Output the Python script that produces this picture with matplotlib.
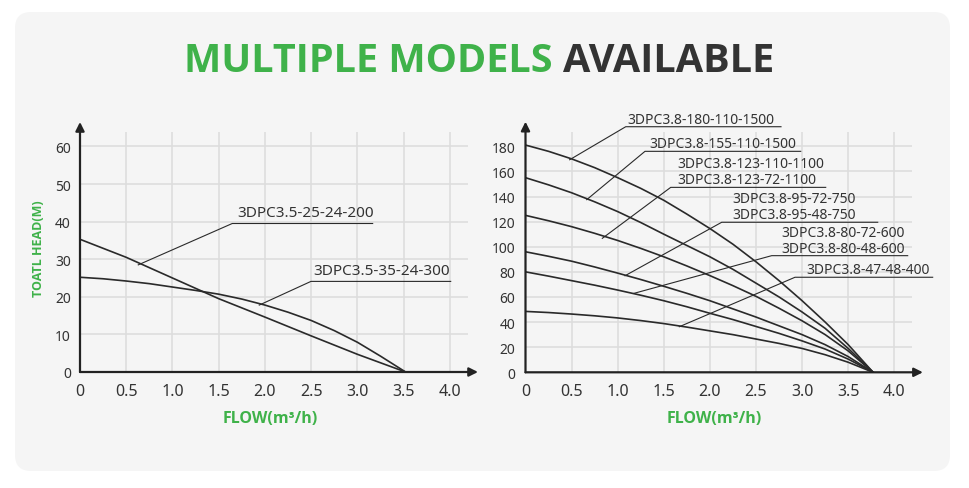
import matplotlib
matplotlib.use("Agg")
import matplotlib.pyplot as plt
from matplotlib.patches import FancyBboxPatch

plt.rcParams['font.family'] = ['Noto Sans', 'DejaVu Sans']
BOLD_FONT = ['Open Sans', 'DejaVu Sans']

GREEN = '#3fb24a'
DARK = '#333333'
GRID = '#dcdcdc'
PANEL = '#f5f5f5'

# ---- left chart data ----
left_xticks = [0, 0.5, 1.0, 1.5, 2.0, 2.5, 3.0, 3.5, 4.0]
left_xlabels = ['0', '0.5', '1.0', '1.5', '2.0', '2.5', '3.0', '3.5', '4.0']
left_yticks = [0, 10, 20, 30, 40, 50, 60]

flow_200 = [0, 0.5, 1.0, 1.5, 2.0, 2.5, 3.0, 3.52]
head_200 = [35.3, 30.5, 25.0, 19.5, 14.6, 9.6, 4.7, 0]
flow_300 = [0, 0.25, 0.5, 0.75, 1.0, 1.25, 1.5, 1.75, 2.0, 2.25, 2.5, 2.75,
            3.0, 3.25, 3.52]
head_300 = [25.2, 24.8, 24.2, 23.5, 22.6, 21.7, 20.7, 19.4, 17.8, 15.9, 13.7,
            11.0, 7.9, 4.2, 0]

left_labels = ['3DPC3.5-25-24-200', '3DPC3.5-35-24-300']
left_lead_x0 = [0.63, 1.938]
left_lead_y0 = [28.5, 17.8]
left_lead_x1 = [1.646, 2.497]
left_lead_y1 = [39.5, 24.1]
left_lead_x2 = [3.164, 4.008]
left_text_x = [1.705, 2.522]

# ---- right chart data ----
right_xticks = left_xticks
right_xlabels = left_xlabels
right_yticks = [0, 20, 40, 60, 80, 100, 120, 140, 160, 180]

right_flow = [0, 0.25, 0.5, 0.75, 1.0, 1.25, 1.5, 1.75, 2.0, 2.25, 2.5, 2.75,
              3.0, 3.25, 3.5, 3.77]
head_180 = [181, 176, 170, 163, 155, 146.5, 137, 126, 114.5, 102, 88, 73,
            57, 40, 22, 0]
head_155 = [155, 149.3, 143, 135.8, 128, 119.3, 110, 101, 92, 82, 71, 60,
            48, 35, 19, 0]
head_123 = [125, 120.7, 116, 110.7, 105, 98.7, 92, 84.7, 77, 69, 60.5, 51,
            41, 30, 17, 0]
head_95 = [96, 92.4, 88.5, 83.9, 79, 73.9, 68.5, 62.9, 57, 50.5, 44, 37,
           30, 22, 12.5, 0]
head_80 = [80, 76.6, 73, 69.4, 65.5, 61.4, 57, 52.2, 47, 42, 36.5, 31,
           25, 18.5, 10.5, 0]
head_47 = [48.5, 47.6, 46.4, 45.0, 43.3, 41.2, 38.8, 36.0, 33, 30, 26.5, 23,
           19, 14, 8, 0]
right_heads = [head_180, head_155, head_123, head_95, head_80, head_47]

right_labels = [
    ['3DPC3.8-180-110-1500'],
    ['3DPC3.8-155-110-1500'],
    ['3DPC3.8-123-72-1100', '3DPC3.8-123-110-1100'],
    ['3DPC3.8-95-48-750', '3DPC3.8-95-72-750'],
    ['3DPC3.8-80-48-600', '3DPC3.8-80-72-600'],
    ['3DPC3.8-47-48-400'],
]
right_lead_x0 = [0.479, 0.664, 0.833, 1.079, 1.177, 1.668]
right_lead_y0 = [169.3, 137.5, 106.7, 76.9, 62.9, 36.3]
right_lead_x1 = [1.087, 1.296, 1.575, 2.128, 2.670, 2.923]
right_lead_y1 = [195.6, 176.0, 147.3, 119.5, 92.9, 75.7]
right_lead_x2 = [2.771, 2.985, 3.256, 3.820, 4.145, 4.416]
right_text_x = [1.108, 1.343, 1.646, 2.243, 2.771, 3.050]


def setup_axes(ax, xticks, xlabels, yticks, xmax, ymax, grid_x, grid_y, ypad):
    ax.set_xlim(0, xmax)
    ax.set_ylim(0, ymax)
    ax.patch.set_alpha(0)
    for s in ax.spines.values():
        s.set_visible(False)
    ax.vlines(xticks[1:], 0, grid_y, color=GRID, lw=1.1, zorder=0)
    ax.hlines(yticks[1:], 0, grid_x, color=GRID, lw=1.1, zorder=0)
    ax.set_xticks(xticks)
    ax.set_xticklabels(xlabels)
    ax.set_yticks(yticks)
    ax.tick_params(axis='x', length=0, pad=8, labelsize=11.5, labelcolor=DARK)
    ax.tick_params(axis='y', length=0, pad=ypad, labelsize=10, labelcolor=DARK)
    arrow = dict(arrowstyle='-|>', color='#222222', lw=1.6, mutation_scale=13,
                 shrinkA=0, shrinkB=0)
    ax.annotate('', xy=(xmax, 0), xytext=(0, 0), arrowprops=arrow,
                annotation_clip=False)
    ax.annotate('', xy=(0, ymax), xytext=(0, 0), arrowprops=arrow,
                annotation_clip=False)


def leader(ax, x0, y0, x1, y1, x2, tx, texts, gap, step, size):
    ax.plot([x0, x1, x2], [y0, y1, y1], color='#2a2a2a', lw=0.8,
            clip_on=False, zorder=3)
    for i, t in enumerate(texts):
        ax.annotate(t, xy=(tx, y1), xytext=(0, gap + i * step),
                    textcoords='offset pixels', ha='left', va='baseline',
                    fontsize=size, color=DARK, annotation_clip=False)


fig = plt.figure(figsize=(9.7, 4.89), dpi=100)
fig.patch.set_facecolor('white')

bg = fig.add_axes([0, 0, 1, 1])
bg.set_xlim(0, 970)
bg.set_ylim(489, 0)
bg.axis('off')
bg.add_patch(FancyBboxPatch((15, 13), 935, 459,
                            boxstyle='round,pad=0,rounding_size=16',
                            facecolor=PANEL, edgecolor='none'))

# title in two colours, centred as a whole
renderer = fig.canvas.get_renderer()
t1 = bg.text(0, 62, 'MULTIPLE MODELS ', ha='left', va='center',
             fontsize=28.5, fontweight='bold', color=GREEN, family=BOLD_FONT)
t2 = bg.text(0, 62, 'AVAILABLE', ha='left', va='center',
             fontsize=28.5, fontweight='bold', color=DARK, family=BOLD_FONT)
w1 = t1.get_window_extent(renderer).width
w2 = t2.get_window_extent(renderer).width
start = 479 - (w1 + w2) / 2
t1.set_x(start)
t2.set_x(start + w1)

bg.text(270.5, 419, 'FLOW(m³/h)', ha='center', va='center',
        fontsize=11.5, fontweight='bold', color=GREEN, family=BOLD_FONT)
bg.text(714.7, 419, 'FLOW(m³/h)', ha='center', va='center',
        fontsize=11.5, fontweight='bold', color=GREEN, family=BOLD_FONT)
bg.text(38.5, 249, 'TOATL HEAD(M)', ha='center', va='center', rotation=90,
        fontsize=9, fontweight='bold', color=GREEN, family=BOLD_FONT)

# left chart
ax1 = fig.add_axes([80 / 970, 116 / 489, 398 / 970, 250 / 489])
setup_axes(ax1, left_xticks, left_xlabels, left_yticks, 4.303, 66.5,
           4.19, 63.8, 6.5)
ax1.plot(flow_200, head_200, color='#2a2a2a', lw=1.2, zorder=2)
ax1.plot(flow_300, head_300, color='#2a2a2a', lw=1.2, zorder=2)
for i in range(len(left_labels)):
    leader(ax1, left_lead_x0[i], left_lead_y0[i], left_lead_x1[i],
           left_lead_y1[i], left_lead_x2[i], left_text_x[i],
           [left_labels[i]], 7.5, 16, 11)

# right chart
ax2 = fig.add_axes([525.5 / 970, 115.7 / 489, 397.4 / 970, 250.6 / 489])
setup_axes(ax2, right_xticks, right_xlabels, right_yticks, 4.31, 199.6,
           4.19, 191.4, 7.5)
for heads in right_heads:
    ax2.plot(right_flow, heads, color='#2a2a2a', lw=1.2, zorder=2)
for i in range(len(right_labels)):
    leader(ax2, right_lead_x0[i], right_lead_y0[i], right_lead_x1[i],
           right_lead_y1[i], right_lead_x2[i], right_text_x[i],
           right_labels[i], 4, 16, 10)

fig.savefig('out.png', dpi=100, facecolor='white')
